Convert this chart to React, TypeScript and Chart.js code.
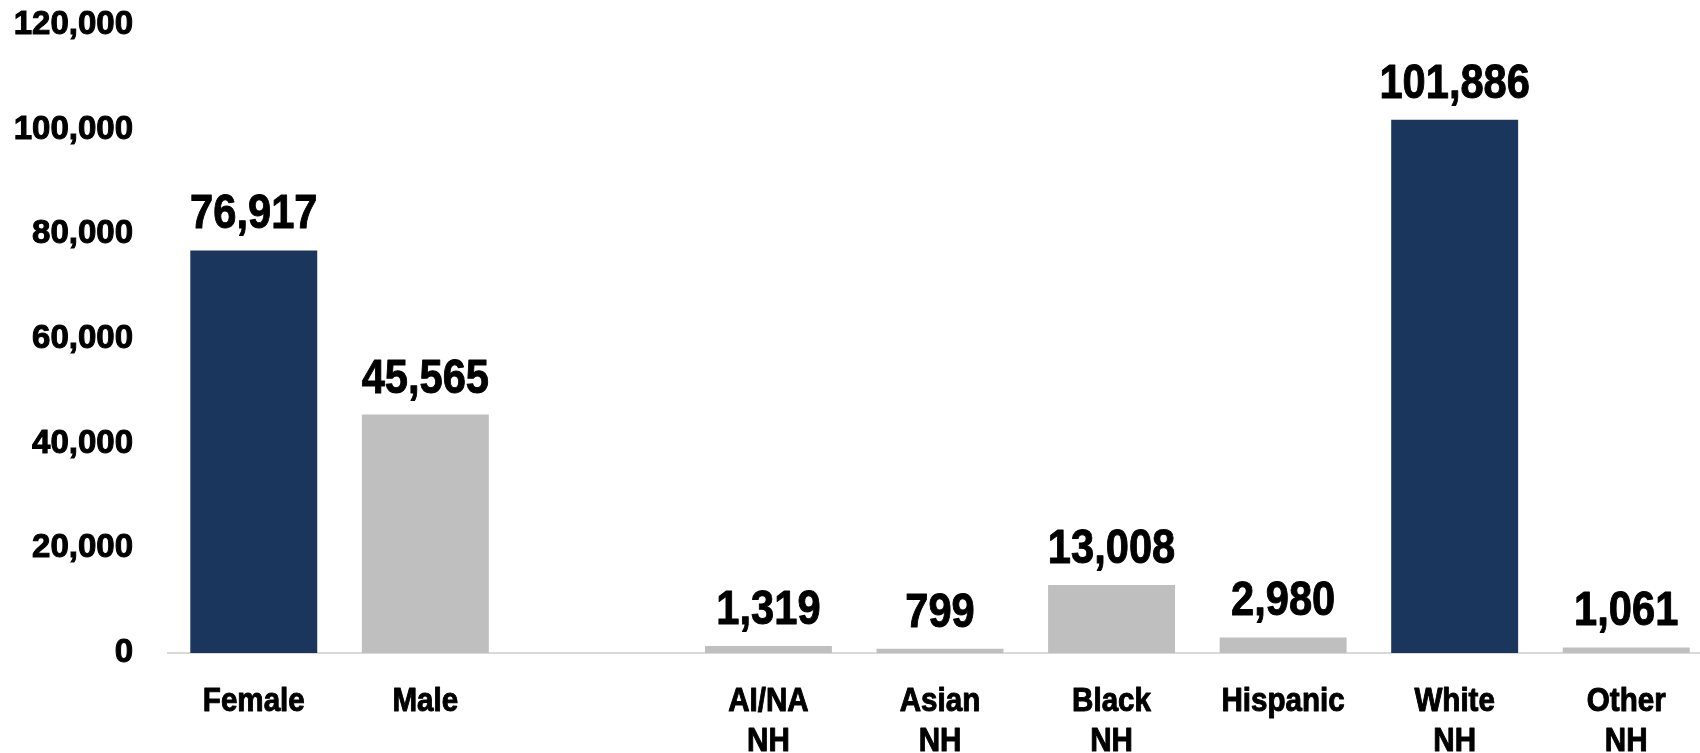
import React, { useEffect, useRef } from "react";
import { Chart, registerables } from "chart.js";

Chart.register(...registerables);

const categories: (string | string[])[] = [
  "Female",
  "Male",
  "",
  ["AI/NA", "NH"],
  ["Asian", "NH"],
  ["Black", "NH"],
  "Hispanic",
  ["White", "NH"],
  ["Other", "NH"],
];
const counts: (number | null)[] = [76917, 45565, null, 1319, 799, 13008, 2980, 101886, 1061];
const highlighted: boolean[] = [true, false, false, false, false, false, false, true, false];
const yTicks: number[] = [0, 20000, 40000, 60000, 80000, 100000, 120000];

const NAVY = "#1b365d";
const GRAY = "#bfbfbf";
const SANS = "'Liberation Sans', Arial, sans-serif";

// draws text horizontally condensed (mimics a heavy condensed bold face)
function condensedText(ctx: CanvasRenderingContext2D, text: string, x: number, y: number, sx: number) {
  ctx.save();
  ctx.translate(x, y);
  ctx.scale(sx, 1);
  ctx.fillText(text, 0, 0);
  ctx.strokeText(text, 0, 0);
  ctx.restore();
}

const customText = {
  id: "customText",
  afterDatasetsDraw(chart: any) {
    const ctx = chart.ctx as CanvasRenderingContext2D;
    const meta = chart.getDatasetMeta(0);
    ctx.save();
    ctx.fillStyle = "#000000";
    ctx.strokeStyle = "#000000";
    ctx.lineWidth = 1;
    ctx.lineJoin = "round";
    ctx.textAlign = "center";
    ctx.textBaseline = "alphabetic";
    // value labels above bars
    ctx.font = `bold 49px ${SANS}`;
    meta.data.forEach((bar: any, i: number) => {
      const v = counts[i];
      if (v === null || v === undefined) return;
      condensedText(ctx, v.toLocaleString("en-US"), bar.x, bar.y - 22, 0.85);
    });
    // category labels under the axis
    const xScale = chart.scales.x;
    const axisY = xScale.top;
    ctx.font = `bold 34px ${SANS}`;
    categories.forEach((c, i) => {
      const lines = Array.isArray(c) ? c : [c];
      const x = xScale.getPixelForValue(i);
      lines.forEach((ln, j) => {
        if (!ln) return;
        condensedText(ctx, ln, x, axisY + 58 + j * 40, 0.87);
      });
    });
    ctx.restore();
  },
};

export default function App() {
  const ref = useRef<HTMLCanvasElement | null>(null);

  useEffect(() => {
    document.body.style.margin = "0";
    if (!ref.current) return;
    const chart = new Chart(ref.current, {
      type: "bar",
      data: {
        labels: categories as any,
        datasets: [
          {
            data: counts as any,
            backgroundColor: highlighted.map((h) => (h ? NAVY : GRAY)),
            borderWidth: 0,
            barPercentage: 0.74,
            categoryPercentage: 1,
          },
        ],
      },
      options: {
        animation: false,
        responsive: true,
        maintainAspectRatio: false,
        layout: { padding: 0 },
        plugins: {
          legend: { display: false },
          tooltip: { enabled: false },
          title: { display: false },
        },
        scales: {
          x: {
            grid: { display: false, drawTicks: false },
            border: { display: true, color: "#d9d9d9", width: 2 },
            ticks: { display: false },
            afterFit: (scale: any) => {
              scale.height = 100;
              scale.paddingTop = 0;
              scale.paddingBottom = 0;
            },
          },
          y: {
            min: 0,
            max: 120000,
            grid: { display: false, drawTicks: false },
            border: { display: false },
            afterBuildTicks: (scale: any) => {
              scale.ticks = yTicks.map((v) => ({ value: v }));
            },
            ticks: {
              color: "#000000",
              textStrokeColor: "#000000",
              textStrokeWidth: 1,
              font: { family: SANS, weight: "bold", size: 33 },
              padding: 35,
              callback: (v: any) => Number(v).toLocaleString("en-US"),
            },
            afterFit: (scale: any) => {
              scale.width = 168;
              scale.paddingTop = 25;
              scale.paddingBottom = 0;
            },
          },
        },
      },
      plugins: [customText],
    });
    return () => chart.destroy();
  }, []);

  return (
    <div style={{ width: 1700, height: 753, overflow: "hidden", position: "relative" }}>
      <div style={{ width: 1712, height: 753, position: "relative" }}>
        <canvas ref={ref} />
      </div>
    </div>
  );
}
